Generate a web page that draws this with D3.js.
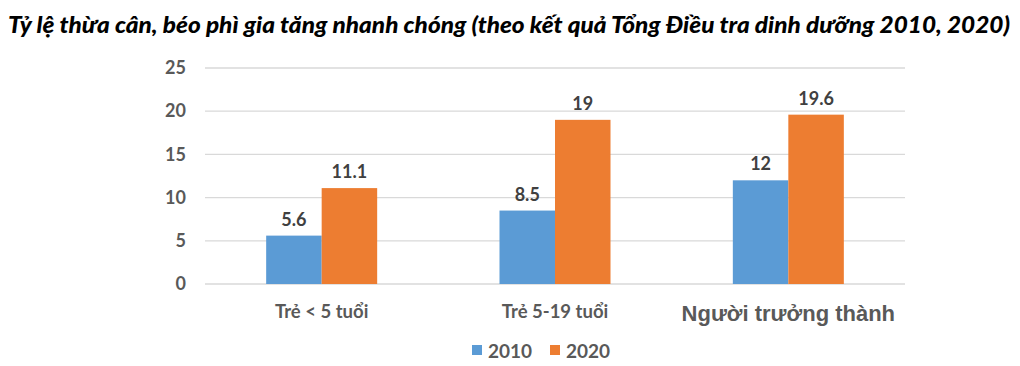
<!DOCTYPE html>
<html>
<head>
<meta charset="utf-8">
<script src="https://cdn.jsdelivr.net/npm/d3@7"></script>
<style>
  body { margin: 0; background: #fff; }
  svg { display: block; }
</style>
</head>
<body>
<svg width="1020" height="366"></svg>
<script>

var categories = ["Trẻ < 5 tuổi", "Trẻ 5-19 tuổi", "Người trưởng thành"];
var years = ["2010", "2020"];
var values2010 = [5.6, 8.5, 12];
var values2020 = [11.1, 19, 19.6];
var yTicks = [0, 5, 10, 15, 20, 25];
var colors = ["#5b9bd5", "#ed7d31"];

var svg = d3.select("svg"),
    margin = {top: 68, right: 115, bottom: 82, left: 205},
    width = +svg.attr("width") - margin.left - margin.right,
    height = +svg.attr("height") - margin.top - margin.bottom,
    g = svg.append("g").attr("transform", "translate(" + margin.left + "," + margin.top + ")");

var series = [values2010, values2020];

// title
svg.append("text")
    .attr("x", 8)
    .attr("y", 33)
    .attr("textLength", 1002)
    .attr("lengthAdjust", "spacingAndGlyphs")
    .style("font-family", "Lato, 'Open Sans', sans-serif")
    .style("font-weight", "900")
    .style("font-style", "italic")
    .style("font-size", "22px")
    .style("fill", "#000")
    .text("Tỷ lệ thừa cân, béo phì gia tăng nhanh chóng (theo kết quả Tổng Điều tra dinh dưỡng 2010, 2020)");

var x0 = d3.scaleBand()
    .domain(categories)
    .range([0, width])
    .padding(0);

var x1 = d3.scaleBand()
    .domain(years)
    .range([-55.5, 55.5]);

var y = d3.scaleLinear()
    .domain([0, 25])
    .range([height, 0]);

// gridlines
g.append("g")
    .attr("class", "grid")
  .selectAll("line")
  .data(yTicks)
  .enter().append("line")
    .attr("x1", 0)
    .attr("x2", width)
    .attr("y1", function(d) { return y(d); })
    .attr("y2", function(d) { return y(d); })
    .style("stroke", "#d9d9d9")
    .style("stroke-width", 1.3);

var yAxis = d3.axisLeft(y).tickValues(yTicks).tickSize(0).tickPadding(19);

g.append("g")
    .attr("class", "axis axis--y")
    .call(yAxis)
    .call(function(a) { a.select(".domain").remove(); })
  .selectAll("text")
    .style("font-family", "Lato, sans-serif")
    .style("font-weight", "bold")
    .style("font-size", "18px")
    .style("fill", "#595959");

// bars
var groups = g.selectAll(".cat")
  .data(categories)
  .enter().append("g")
    .attr("class", "cat")
    .attr("transform", function(d) { return "translate(" + (x0(d) + x0.bandwidth() / 2) + ",0)"; });

groups.selectAll("rect")
  .data(function(d, i) { return years.map(function(yr, j) { return {year: yr, value: series[j][i]}; }); })
  .enter().append("rect")
    .attr("x", function(d) { return x1(d.year); })
    .attr("width", x1.bandwidth())
    .attr("y", function(d) { return y(d.value); })
    .attr("height", function(d) { return height - y(d.value); })
    .style("fill", function(d, j) { return colors[j]; });

groups.selectAll(".val")
  .data(function(d, i) { return years.map(function(yr, j) { return {year: yr, value: series[j][i]}; }); })
  .enter().append("text")
    .attr("class", "val")
    .attr("x", function(d) { return x1(d.year) + x1.bandwidth() / 2; })
    .attr("y", function(d) { return y(d.value) - 10; })
    .attr("text-anchor", "middle")
    .style("font-family", "Lato, sans-serif")
    .style("font-weight", "bold")
    .style("font-size", "18px")
    .style("fill", "#404040")
    .text(function(d) { return d.value; });

// category labels
var xAxis = d3.axisBottom(x0).tickSize(0).tickPadding(21);

var xg = g.append("g")
    .attr("class", "axis axis--x")
    .attr("transform", "translate(0," + height + ")")
    .call(xAxis);
xg.select(".domain").remove();
xg.selectAll("text")
    .style("font-family", function(d, i) { return i == 2 ? "'Liberation Sans', Arial, sans-serif" : "Lato, sans-serif"; })
    .style("font-weight", "bold")
    .style("font-size", function(d, i) { return i == 2 ? "22px" : "18.5px"; })
    .style("fill", "#595959");

// legend
var legend = svg.append("g")
    .attr("transform", "translate(472,342)");

var item = legend.selectAll("g")
  .data(years)
  .enter().append("g")
    .attr("transform", function(d, i) { return "translate(" + (i * 78) + ",0)"; });

item.append("rect")
    .attr("width", 10)
    .attr("height", 10)
    .attr("y", 3)
    .style("fill", function(d, i) { return colors[i]; });

item.append("text")
    .attr("x", 16)
    .attr("y", 16)
    .style("font-family", "Lato, sans-serif")
    .style("font-weight", "bold")
    .style("font-size", "19px")
    .style("fill", "#595959")
    .text(function(d) { return d; });

</script>
</body>
</html>
